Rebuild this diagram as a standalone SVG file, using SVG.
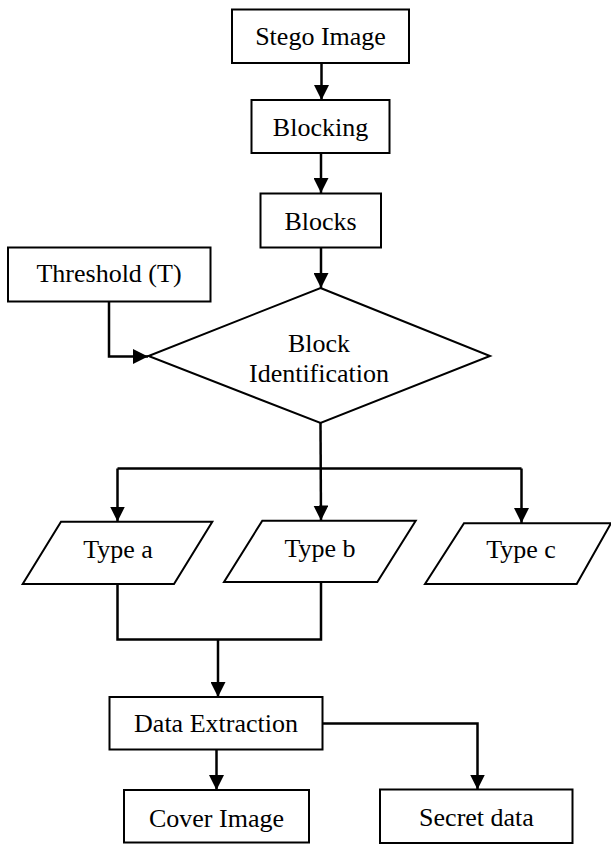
<svg xmlns="http://www.w3.org/2000/svg" width="611" height="844" viewBox="0 0 611 844">
<style>
.box{fill:#fff;stroke:#000;stroke-width:2}
.t{font-family:"Liberation Serif","Times New Roman",serif;font-size:26px;fill:#000;text-anchor:middle}
.c{fill:none;stroke:#000;stroke-width:2.5}
.ca{fill:none;stroke:#000;stroke-width:2.5;marker-end:url(#ah)}
</style>
<defs>
<marker id="ah" markerUnits="userSpaceOnUse" markerWidth="15" markerHeight="15" refX="15" refY="7.5" orient="auto" viewBox="0 0 15 15">
<path d="M0,0 L15,7.5 L0,15 z" fill="#000"/>
</marker>
</defs>
<rect width="611" height="844" fill="#fff"/>
<g id="connectors">
<path class="ca" d="M321.5,63 V100"/>
<path class="ca" d="M321,153 V193"/>
<path class="ca" d="M321,248 V288"/>
<path class="ca" d="M109,302 V356.5 H148"/>
<path class="ca" d="M320.5,423 L321,520.5"/>
<path class="c" d="M117.5,468.5 H521.5"/>
<path class="ca" d="M117.5,468.5 V521.5"/>
<path class="ca" d="M521.5,468.5 V523"/>
<path class="c" d="M117.5,584 V639.5 H321 V582"/>
<path class="ca" d="M218,639.5 V697"/>
<path class="ca" d="M216.5,749.5 V790"/>
<path class="ca" d="M323,723.5 H477.5 V789.5"/>
</g>
<g id="stego">
<rect class="box" x="232" y="9.5" width="177" height="53.5"/>
<text class="t" x="320.5" y="45">Stego Image</text>
</g>
<g id="blocking">
<rect class="box" x="251.5" y="100" width="138" height="53"/>
<text class="t" x="320.5" y="136">Blocking</text>
</g>
<g id="blocks">
<rect class="box" x="260.5" y="193.5" width="120.5" height="54"/>
<text class="t" x="320.5" y="230">Blocks</text>
</g>
<g id="threshold">
<rect class="box" x="8" y="247.5" width="202.5" height="54"/>
<text class="t" x="109" y="282">Threshold (T)</text>
</g>
<g id="identification">
<polygon class="box" points="320.5,288 490,356 320.5,423 148.5,356"/>
<text class="t" x="319" y="352">Block</text>
<text class="t" x="319" y="382">Identification</text>
</g>
<g id="typea">
<polygon class="box" points="61,521.7 212.3,521.7 174,584 22.7,584"/>
<text class="t" x="118" y="558">Type a</text>
</g>
<g id="typeb">
<polygon class="box" points="262.3,520.7 415.7,520.7 377.3,582 224,582"/>
<text class="t" x="320" y="556.5">Type b</text>
</g>
<g id="typec">
<polygon class="box" points="464,523.3 611,523.3 576.7,584 425,584"/>
<text class="t" x="521" y="558">Type c</text>
</g>
<g id="extraction">
<rect class="box" x="109.5" y="697" width="213" height="52.5"/>
<text class="t" x="216" y="731.5">Data Extraction</text>
</g>
<g id="cover">
<rect class="box" x="124" y="790" width="185" height="52.5"/>
<text class="t" x="216.5" y="826.5">Cover Image</text>
</g>
<g id="secret">
<rect class="box" x="380" y="789.5" width="192.5" height="53.5"/>
<text class="t" x="476.5" y="826">Secret data</text>
</g>
</svg>
